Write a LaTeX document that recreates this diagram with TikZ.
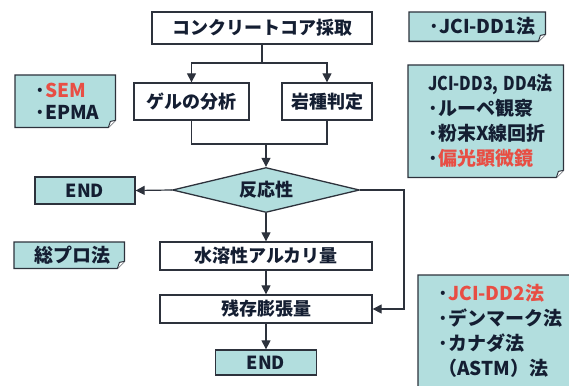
\documentclass[tikz,border=0pt]{standalone}
\usepackage{fontspec}
\setmainfont{Noto Sans CJK JP}
\usepackage{graphicx}
\usepackage{tikz}
\usetikzlibrary{positioning, shapes.geometric, arrows.meta, backgrounds}

\definecolor{tealfill}{RGB}{178,222,222}
\definecolor{edgegray}{RGB}{45,50,60}
\definecolor{notered}{RGB}{232,78,68}
\definecolor{inkblue}{RGB}{20,30,50}
\newcommand{\bul}{\makebox[10pt][c]{·}}

\begin{document}
\begin{tikzpicture}[x=1pt, y=-1pt, >={Triangle[length=9pt,width=9pt]},
font=\bfseries\fontsize{18}{22}\selectfont, text=inkblue,
plainbox/.style={rectangle, draw=edgegray, fill=white, line width=1.3pt, inner sep=0pt},
endnode/.style={rectangle, draw=edgegray, fill=tealfill, line width=1.3pt, inner sep=0pt},
decisionnode/.style={diamond, draw=edgegray, fill=tealfill, line width=1.3pt, inner sep=0pt, aspect=4},
notenode/.style={rectangle, anchor=north west, inner xsep=20pt, inner ysep=0pt, align=left, font=\bfseries\fontsize{19}{25}\selectfont},
line/.style={draw=edgegray, line width=1.2pt},
]
\useasboundingbox (0,0) rectangle (569,385);

%Nodes
\node[plainbox, minimum width=220pt, minimum height=32pt]  (core)      at (262,28)    {コンクリートコア採取};
\node[plainbox, minimum width=115pt, minimum height=37pt]  (gel)       at (191.5,101.5) {ゲルの分析};
\node[plainbox, minimum width=90pt, minimum height=37pt]   (rock)      at (327,101.5) {岩種判定};
\node[decisionnode, minimum width=187pt, minimum height=45pt] (react)  at (266,190)   {反応性};
\node[endnode, minimum width=100pt, minimum height=27pt]   (endleft)   at (85,190.5)  {END};
\node[plainbox, minimum width=212pt, minimum height=28pt]  (alkali)    at (266,256)   {水溶性アルカリ量};
\node[plainbox, minimum width=212pt, minimum height=28pt]  (expand)    at (266,309)   {残存膨張量};
\node[endnode, minimum width=101pt, minimum height=25pt]   (endbottom) at (266,362.5) {END};

%Notes
\node[notenode, text width=60pt, minimum height=52pt, font=\bfseries\fontsize{19}{22}\selectfont] (sem) at (15,75) {\bul\textcolor{notered}{SEM}\\\bul EPMA};
\node[notenode, text width=96pt, minimum height=29pt]   (dd1)   at (409,12)  {\mbox{\bul JCI-DD1法}};
\node[notenode, text width=115pt, minimum height=112pt] (dd3)   at (408,65)  {\scalebox{0.84}[1]{JCI-DD3, DD4法}\\\bul ルーペ観察\\\bul 粉末X線回折\\\bul\textcolor{notered}{偏光顕微鏡}};
\node[notenode, text width=70pt, minimum height=26pt]   (sopro) at (14,242)  {総プロ法};
\node[notenode, text width=132pt, minimum height=135pt] (dd2)   at (418,275) {\mbox{\bul\textcolor{notered}{JCI-DD2法}}\\\bul デンマーク法\\\bul カナダ法\\（ASTM）法\\\mbox{}};

\begin{scope}[on background layer]
\foreach \n in {sem,dd1,dd3,sopro,dd2} {
  \draw[line width=1.3pt, draw=edgegray, fill=tealfill] (\n.north west) -- (\n.north east) -- ([yshift=7pt]\n.south east) -- ([xshift=-7pt]\n.south east) -- (\n.south west) -- cycle;
  \draw[line width=1pt, draw=edgegray, fill=white] ([xshift=-7pt]\n.south east) -- ([xshift=-5pt,yshift=6pt]\n.south east) -- ([yshift=7pt]\n.south east);
}
\end{scope}

%Lines
\coordinate (split) at (262,63);
\coordinate (merge) at (266,144);
\coordinate (loop)  at (404,190);
\draw[line] (core.south) -- (split);
\draw[line,->] (split) -| (gel.north);
\draw[line,->] (split) -| (rock.north);
\draw[line] (gel.south) |- (merge);
\draw[line] (rock.south) |- (merge);
\draw[line,->] (merge) -- (react.north);
\draw[line,->] (react.west) -- (endleft.east);
\draw[line,->] (react.south) -- (alkali.north);
\draw[line,->] (alkali.south) -- (expand.north);
\draw[line,->] (expand.south) -- (endbottom.north);
\draw[line,->] (react.east) -- (loop) |- (expand.east);

\end{tikzpicture}
\end{document}
